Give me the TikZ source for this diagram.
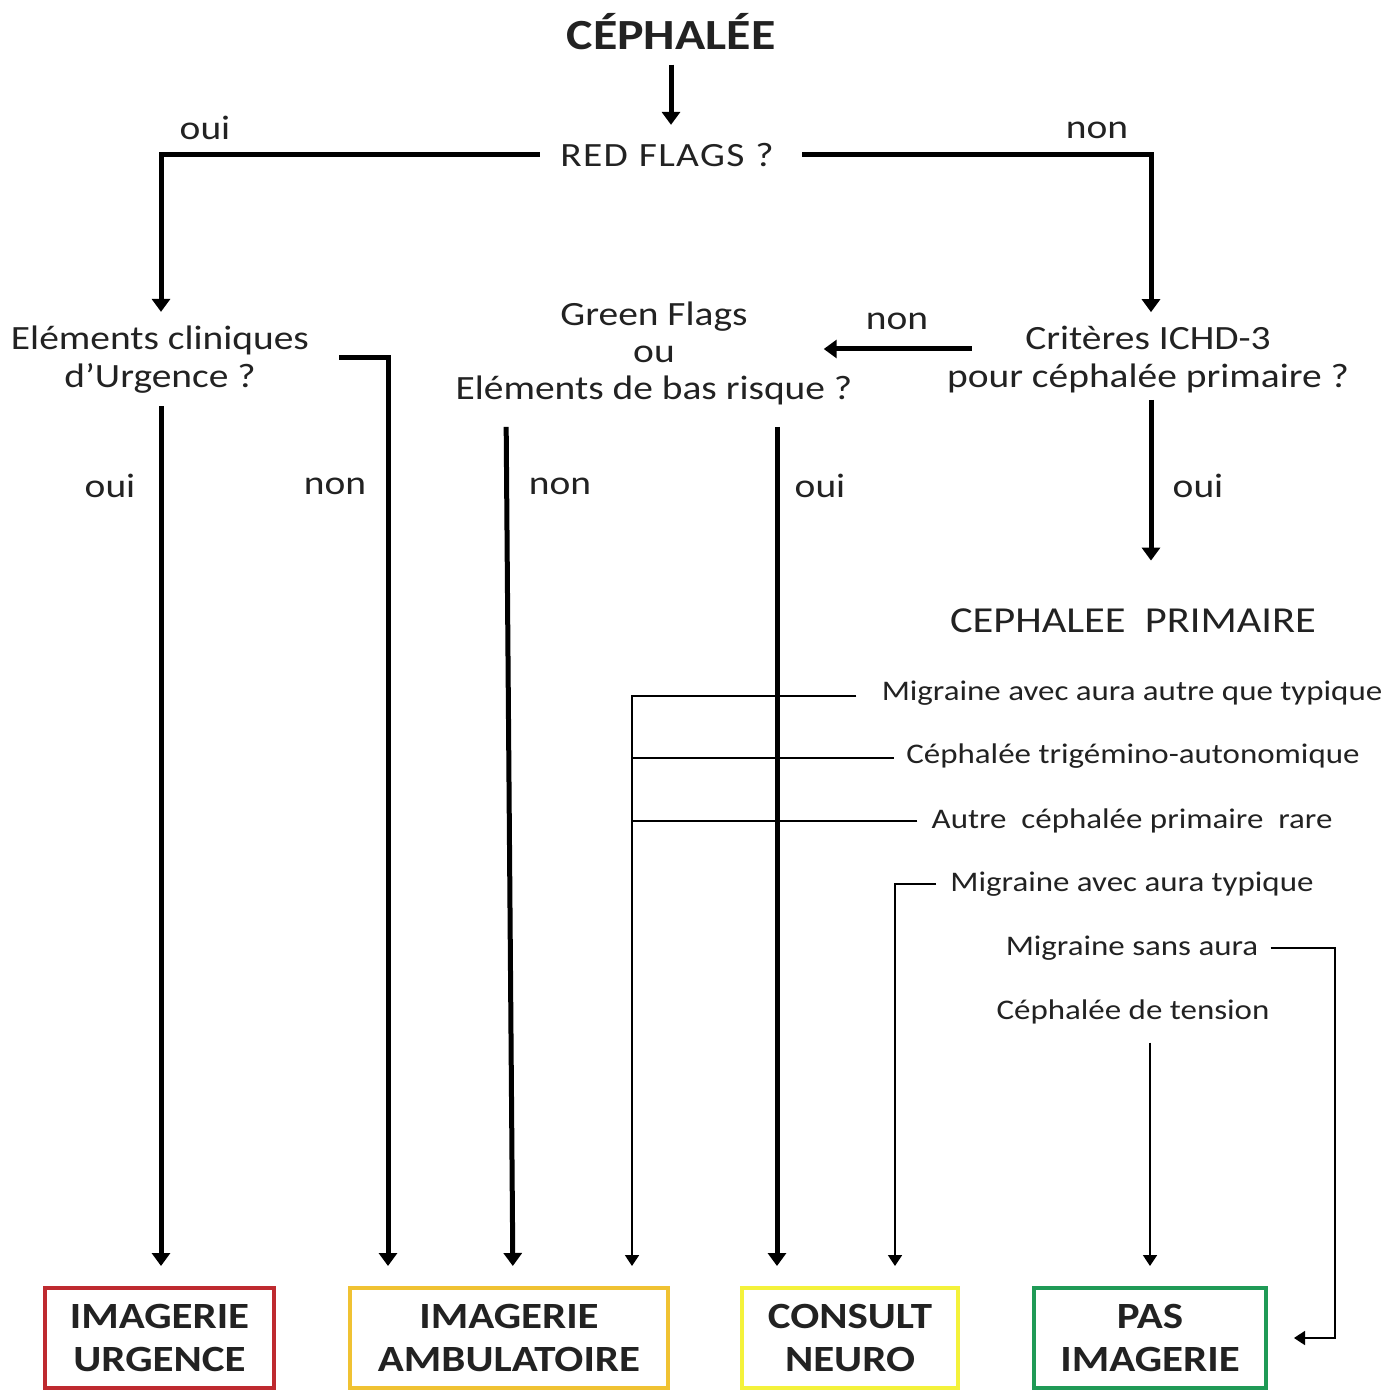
\documentclass[tikz,border=0pt]{standalone}
\usepackage{fontspec}
\setmainfont{Carlito}[FakeStretch=1.16]
\usetikzlibrary{arrows.meta,calc}
\definecolor{txtc}{HTML}{222222}
\definecolor{cred}{HTML}{BE2A2F}
\definecolor{corange}{HTML}{F0C232}
\definecolor{cyellow}{HTML}{F4F23A}
\definecolor{cgreen}{HTML}{1F9A56}
\tikzset{
  txt/.style={inner sep=0pt,text=txtc,font=\fontsize{17}{19}\selectfont,align=center},
  small/.style={inner sep=0pt,text=txtc,font=\fontsize{14.2}{16}\selectfont},
  ttl/.style={inner sep=0pt,text=txtc,font=\bfseries\fontsize{21.5}{24}\selectfont},
  lbl/.style={inner sep=0pt,text=txtc,font=\fontsize{17}{19}\selectfont},
  outbox/.style={draw=#1,line width=2pt,minimum height=50pt,inner sep=0pt,align=center,
    text=txtc,font=\bfseries\fontsize{18.5}{21.5}\selectfont},
  thk/.style={line width=2.5pt,-{Triangle[width=9pt,length=6.5pt]}},
  thkline/.style={line width=2.5pt},
  thn/.style={line width=0.9pt,-{Triangle[width=7pt,length=5.5pt]}},
  thnline/.style={line width=0.75pt},
}
\begin{document}
\begin{tikzpicture}[x=0.5pt,y=-0.5pt]
\useasboundingbox[fill=white] (0,0) rectangle (1393,1390);
% nodes
\node[ttl] (ceph) at (671,32) {CÉPHALÉE};
\node[txt] (red) at (667,155) {\addfontfeature{LetterSpace=4}RED\hspace{0.32em}FLAGS\hspace{0.32em}?};
\node[txt] (clin) at (160,360) {Eléments cliniques\\d’Urgence ?};
\node[txt,font=\fontsize{17}{18.5}\selectfont] (green) at (654,353) {Green Flags\\ou\\Eléments de bas risque ?};
\node[txt] (ichd) at (1148,360) {Critères ICHD-3\\pour céphalée primaire ?};
\node[txt,font=\fontsize{18.3}{20}\selectfont] (prim) at (1133,621) {CEPHALEE\ \ PRIMAIRE};
\node[small] (m1) at (1132,693) {Migraine avec aura autre que typique};
\node[small] (m2) at (1133,756) {Céphalée trigémino-autonomique};
\node[small] (m3) at (1132,821) {Autre\ \ céphalée primaire\ \ rare};
\node[small] (m4) at (1132,884) {Migraine avec aura typique};
\node[small] (m5) at (1132,948) {Migraine sans aura};
\node[small] (m6) at (1133,1012) {Céphalée de tension};
% outcome boxes
\node[outbox=cred,minimum width=114.5pt] (b1) at (159.5,1338) {IMAGERIE\\URGENCE};
\node[outbox=corange,minimum width=159pt] (b2) at (509,1338) {IMAGERIE\\AMBULATOIRE};
\node[outbox=cyellow,minimum width=108pt] (b3) at (850,1338) {CONSULT\\NEURO};
\node[outbox=cgreen,minimum width=116pt] (b4) at (1150,1338) {PAS\\IMAGERIE};
% labels
\node[lbl] (l1) at (205,128) {oui};
\node[lbl] (l2) at (1097,130) {non};
\node[lbl] (l3) at (110,486) {oui};
\node[lbl] (l4) at (335,486) {non};
\node[lbl] (l5) at (897,321) {non};
\node[lbl] (l6) at (560,486) {non};
\node[lbl] (l7) at (820,486) {oui};
\node[lbl] (l8) at (1198,486) {oui};
% helper coordinates
\coordinate (trunk) at ([xshift=-19pt]b2.north east);
\coordinate (nA) at ([shift={(12.5pt,5.5pt)}]ichd.west);
\coordinate (nB) at ([xshift=-14.5pt]green.east);
% connectors
\draw[thk,shorten <=7pt,shorten >=9pt] (ceph.south) -- (ceph.south |- red.north);
\draw[thk,shorten <=10pt,shorten >=7pt] (red.west) -| ([xshift=0.5pt]clin.north);
\draw[thk,shorten <=14pt,shorten >=7pt] (red.east) -| ([xshift=1.5pt]ichd.north);
\draw[thk,shorten <=15pt,shorten >=10pt] ([yshift=1pt]clin.east) -| ([xshift=20pt]b2.north west);
\draw[thk,shorten <=6pt,shorten >=10pt] ([xshift=0.5pt]clin.south) -- ([xshift=0.5pt]clin.south |- b1.north);
\draw[thk,shorten <=11pt,shorten >=10pt] ([xshift=-74pt]green.south) -- ([xshift=2pt]b2.north);
\draw[thk,shorten <=11pt,shorten >=10pt] ([xshift=61.5pt]green.south) -- ([xshift=61.5pt]green.south |- b3.north);
\draw[thk] (nA) -- (nA -| nB);
\draw[thk,shorten <=3pt,shorten >=24pt] ([xshift=1.5pt]ichd.south) -- ([xshift=1.5pt]ichd.south |- prim.north);
\draw[thn,shorten <=12.5pt,shorten >=10pt] ([yshift=-1.5pt]m1.west) -| (trunk);
\draw[thnline,shorten <=6pt] ([yshift=-1pt]m2.west) -- ([yshift=-1pt]m2.west -| trunk);
\draw[thnline,shorten <=7pt] (m3.west) -- (m3.west -| trunk);
\draw[thn,shorten <=7pt,shorten >=10pt] (m4.west) -| ([xshift=22.5pt]b3.north);
\draw[thn,shorten <=6pt,shorten >=13pt] (m5.east) -| ([xshift=33.5pt]b4.east) -- (b4.east);
\draw[thn,shorten <=9pt,shorten >=10pt] (m6.south -| b4.north) -- (b4.north);
\end{tikzpicture}
\end{document}
